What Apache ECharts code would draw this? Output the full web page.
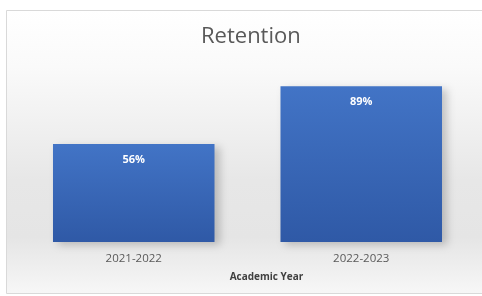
<!DOCTYPE html>
<html>
<head>
<meta charset="utf-8">
<script src="https://cdn.jsdelivr.net/npm/echarts@6/dist/echarts.min.js"></script>
<style>
    html, body { margin: 0; padding: 0; background: #fff; }
    #chart { width: 482px; height: 296px; }
</style>
</head>
<body>
<div id="chart"></div>
<script>
    // chart data
    var categories = ['2021-2022', '2022-2023'];
    var retention = [56, 89];

    var chart = echarts.init(document.getElementById('chart'));

    var option = {
        backgroundColor: '#ffffff',
        animation: false,
        graphic: [{
            type: 'rect',
            z: -10,
            silent: true,
            shape: {x: 6.5, y: 10.5, width: 480, height: 283},
            style: {
                stroke: '#d9d9d9',
                lineWidth: 1,
                fill: {
                    type: 'linear', x: 0, y: 0, x2: 0, y2: 1,
                    colorStops: [
                        {offset: 0, color: '#ffffff'},
                        {offset: 0.2, color: '#fafafa'},
                        {offset: 0.6, color: '#e7e7e7'},
                        {offset: 0.8, color: '#e5e5e5'},
                        {offset: 1, color: '#f7f7f7'}
                    ]
                }
            }
        }],
        title: {
            text: 'Retention',
            left: 196,
            top: 21,
            textStyle: {
                fontFamily: 'Open Sans',
                fontWeight: 'normal',
                fontSize: 22,
                color: '#595959'
            }
        },
        grid: {
            left: 20,
            right: 7,
            top: 67,
            bottom: 54
        },
        xAxis: {
            type: 'category',
            data: categories,
            name: 'Academic Year',
            nameLocation: 'middle',
            nameGap: 30,
            nameTextStyle: {
                fontFamily: 'Open Sans',
                fontWeight: 'bold',
                fontSize: 10,
                color: '#404040',
                padding: [0, 0, 0, 38]
            },
            axisLine: {show: false},
            axisTick: {show: false},
            axisLabel: {
                margin: 11,
                fontFamily: 'Open Sans',
                fontSize: 11.5,
                color: '#595959'
            }
        },
        yAxis: {
            type: 'value',
            min: 0,
            max: 100,
            show: false
        },
        series: [{
            type: 'bar',
            data: retention,
            barWidth: '71%',
            itemStyle: {
                color: {
                    type: 'linear', x: 0, y: 0, x2: 0, y2: 1,
                    colorStops: [
                        {offset: 0, color: '#4274c6'},
                        {offset: 1, color: '#2f59a6'}
                    ]
                },
                shadowColor: 'rgba(0,0,0,0.2)',
                shadowBlur: 8,
                shadowOffsetX: 5,
                shadowOffsetY: 3
            },
            label: {
                show: true,
                position: 'insideTop',
                distance: 10,
                formatter: '{c}%',
                fontFamily: 'Open Sans',
                fontWeight: 'bold',
                fontSize: 11,
                color: '#ffffff'
            }
        }]
    };
    chart.setOption(option);
</script>
</body>
</html>
